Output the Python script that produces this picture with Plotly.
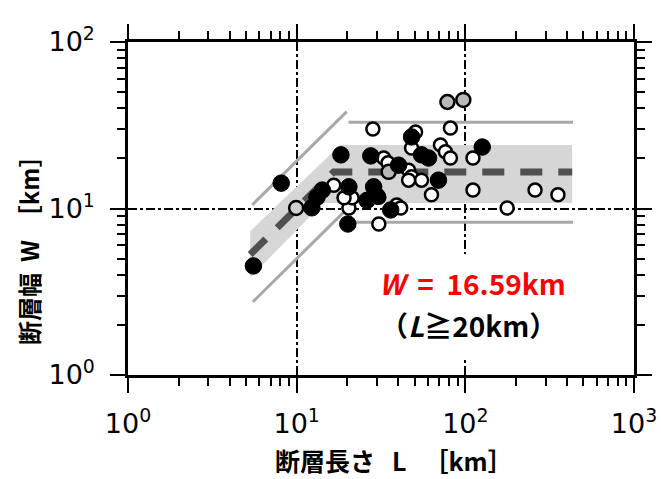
import plotly.graph_objects as go

# ---- data ----
black_L = [5.54, 8.1, 12.3, 13.2, 14.2, 18.3, 20.4, 20.1, 27.5, 28.6, 29.9, 26.1,
           40.2, 36.1, 48, 55, 60.5, 69.3, 126]
black_W = [4.52, 14.2, 10.1, 11.7, 12.9, 21.0, 13.5, 8.07, 20.7, 13.5, 11.9, 11.2,
           18.2, 9.8, 26.9, 21, 20.1, 14.8, 23.4]

open_L = [16.6, 20.4, 28.3, 32.8, 34.8, 30.7, 21.3, 30.7, 39.2, 41.4, 46.1, 48, 55, 46.1,
          50.7, 48, 81.6, 71.2, 76.2, 81.6, 63, 111, 111, 177, 259, 354, 19.1]
open_W = [13.8, 10.07, 30, 20.1, 18.8, 8.07, 11.6, 11.7, 10.5, 10.07, 17.0, 15.5, 14.8, 14.8,
          28.8, 23.1, 30.4, 24.1, 21.9, 20.1, 12.1, 20.1, 12.9, 10.07, 12.9, 12.1, 11.6]

gray_L = [9.93, 35.1, 78.3, 97.3]
gray_W = [10.07, 16.6, 43.6, 44.9]

# regression: W = L for small L, W = 16.59 km for L >= 20 km
center_L = [5.3, 16.59, 430]
center_W = [5.3, 16.59, 16.59]

# +-1 sigma band polygon
band_L = [5.3, 18.1, 430, 430, 14.4, 5.3]
band_W = [7.3, 24.1, 24.1, 10.8, 10.8, 3.85]

# outer lines
up_slope_L = [5.45, 19.8]
up_slope_W = [10.5, 38.2]
lo_slope_L = [5.5, 19.5]
lo_slope_W = [2.75, 9.75]
up_flat_L = [20.3, 435]
up_flat_W = [33, 33]
lo_flat_L = [20.3, 435]
lo_flat_W = [8.26, 8.26]

x_tickvals = [1, 10, 100, 1000]
x_ticktext = ["10<sup>0</sup>", "10<sup>1</sup>", "10<sup>2</sup>", "10<sup>3</sup>"]
y_tickvals = [1, 10, 100]
y_ticktext = ["10<sup>0</sup>", "10<sup>1</sup>", "10<sup>2</sup>"]
x_minor = [m * d for d in (1, 10, 100) for m in range(2, 10)]
y_minor = [m * d for d in (1, 10) for m in range(2, 10)]

fig = go.Figure()

fig.add_trace(go.Scatter(x=band_L, y=band_W, fill="toself", fillcolor="#d6d6d6",
                         line=dict(width=0), mode="lines", hoverinfo="skip"))
for xs, ys in [(up_slope_L, up_slope_W), (lo_slope_L, lo_slope_W),
               (up_flat_L, up_flat_W), (lo_flat_L, lo_flat_W)]:
    fig.add_trace(go.Scatter(x=xs, y=ys, mode="lines",
                             line=dict(color="#a8a8a8", width=3)))
fig.add_trace(go.Scatter(x=center_L, y=center_W, mode="lines",
                         line=dict(color="#505050", width=7, dash="22px,16px")))

fig.add_trace(go.Scatter(x=open_L, y=open_W, mode="markers",
                         marker=dict(size=13, color="white",
                                     line=dict(color="black", width=2.5))))
fig.add_trace(go.Scatter(x=gray_L, y=gray_W, mode="markers",
                         marker=dict(size=14, color=["#d0d0d0", "#b8b8b8", "#b8b8b8", "#b8b8b8"],
                                     line=dict(color="black", width=2.5))))
fig.add_trace(go.Scatter(x=black_L, y=black_W, mode="markers",
                         marker=dict(size=16.5, color="black",
                                     line=dict(color="black", width=1))))

axis_common = dict(
    type="log", ticks="outside", ticklen=15, tickwidth=2, tickcolor="black",
    showline=True, linewidth=2.5, linecolor="black", mirror="allticks",
    showgrid=True, gridcolor="black", gridwidth=1.5, griddash="dashdot",
    zeroline=False, layer="above traces", automargin=False,
    tickfont=dict(family="DejaVu Sans", size=27, color="black"),
)

fig.update_xaxes(range=[0, 3], tickmode="array", tickvals=x_tickvals, ticktext=x_ticktext,
                 minor=dict(tickvals=x_minor, ticks="outside", ticklen=8, tickwidth=2,
                            tickcolor="black", showgrid=False),
                 ticklabelstandoff=8, **axis_common)
fig.update_yaxes(range=[0, 2], tickmode="array", tickvals=y_tickvals, ticktext=y_ticktext,
                 minor=dict(tickvals=y_minor, ticks="outside", ticklen=8, tickwidth=2,
                            tickcolor="black", showgrid=False),
                 ticklabelstandoff=10, **axis_common)

L0, R0, T0, B0 = 128, 27, 42, 104
PW, PH = 661 - L0 - R0, 479 - T0 - B0


def px(x):
    return (x - L0) / PW


def py(y):
    return (479 - B0 - y) / PH


fig.add_shape(type="rect", xref="paper", yref="paper",
              x0=px(358), x1=px(605), y0=py(360), y1=py(254),
              fillcolor="white", line=dict(width=0), layer="above")

fig.add_annotation(xref="paper", yref="paper", x=px(377), y=py(283),
                   xanchor="left", yanchor="middle", showarrow=False,
                   text="<b><i>W</i>  =  16.59km</b>",
                   font=dict(family="Noto Sans CJK JP", size=28, color="#ff0000"))
fig.add_annotation(xref="paper", yref="paper", x=px(378), y=py(325),
                   xanchor="left", yanchor="middle", showarrow=False,
                   text="<b>（<i>L</i>≧20km）</b>",
                   font=dict(family="Noto Sans CJK JP", size=28, color="black"))

fig.add_annotation(xref="paper", yref="paper", x=px(394), y=py(460),
                   xanchor="center", yanchor="middle", showarrow=False,
                   text="<b>断層長さ   L   ［km］</b>",
                   font=dict(family="Noto Sans CJK JP", size=25, color="black"))
fig.add_annotation(xref="paper", yref="paper", x=px(28), y=py(245),
                   xanchor="center", yanchor="middle", showarrow=False, textangle=-90,
                   text="<b>断層幅  W  ［km］</b>",
                   font=dict(family="Noto Sans CJK JP", size=24, color="black"))

fig.update_layout(
    width=661, height=479, showlegend=False,
    margin=dict(l=L0, r=R0, t=T0, b=B0, autoexpand=False),
    paper_bgcolor="white", plot_bgcolor="white",
)

fig.write_html("out.html", config={"displayModeBar": False},
               post_script="document.body.style.margin='0';document.body.style.overflow='hidden';")
